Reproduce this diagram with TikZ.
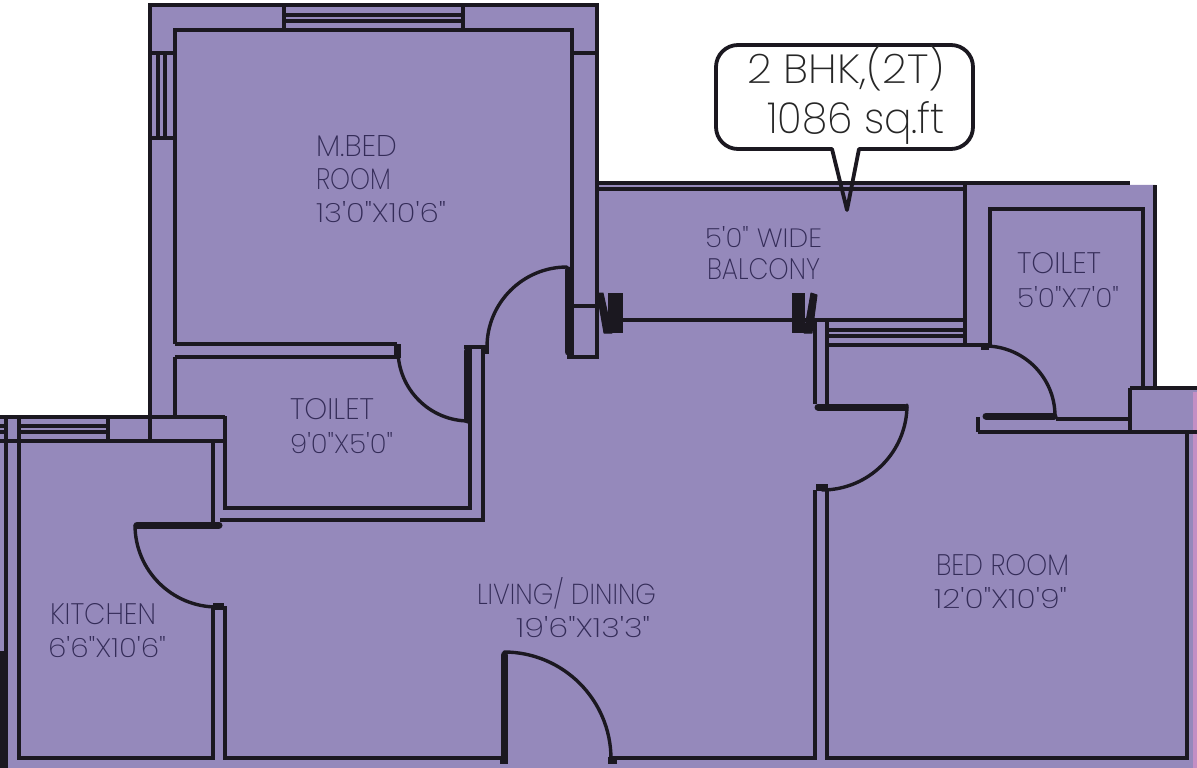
\documentclass[tikz,border=0pt]{standalone}
\usepackage{fontspec}
\usepackage{graphicx}
\newfontfamily\lab{Poppins ExtraLight}
\definecolor{plan}{HTML}{9589BB}
\definecolor{ink}{HTML}{1B1820}
\definecolor{labelink}{HTML}{342C58}
\definecolor{pinkstrip}{HTML}{C48FC4}
\newcommand{\fitto}[3]{\resizebox{#1pt}{#2pt}{\lab #3}}
\tikzset{
  wall/.style={draw=ink,line width=3.6pt,line cap=butt,line join=miter},
  swing/.style={draw=ink,line width=3.4pt,line cap=round},
  leaf/.style={draw=ink,line width=7pt,line cap=round},
  blob/.style={fill=ink,draw=ink,line width=1pt,line join=round},
  roomlabel/.style={anchor=base west,inner sep=0pt,outer sep=0pt,text=labelink},
  badgelabel/.style={anchor=base west,inner sep=0pt,outer sep=0pt,text=black!85},
}
\begin{document}
\begin{tikzpicture}[x=1pt,y=-1pt]
\useasboundingbox (0,0) rectangle (1197,768);
% slab
\fill[plan] (150,4) -- (597,4) -- (597,183) -- (1156,185) -- (1156,388) -- (1197,388) -- (1197,768) -- (0,768) -- (0,416) -- (150,416) -- cycle;
\fill[pinkstrip] (1193,392) rectangle (1197,768);
% master bedroom shell
\draw[wall] (150,417) -- (150,5) -- (597,5) -- (597,357) -- (567,357);
\draw[wall] (175,344) -- (175,30) -- (572,30) -- (572,357);
\draw[wall] (150,53) -- (175,53) (150,138) -- (175,138) (572,53) -- (597,53) (572,306) -- (597,306);
\draw[wall] (284,5) -- (284,30) (463,5) -- (463,30);
\draw[wall] (284,15) -- (463,15) (284,21) -- (463,21);
\draw[wall] (158,53) -- (158,138) (165,53) -- (165,138);
% master bedroom door
\draw[leaf] (568,270) -- (568,352);
\draw[swing] (567,267) arc[start angle=270,end angle=180,radius=80];
\fill[ink] (482,345) rectangle (489,354);
% shared wall and attached toilet
\draw[wall] (175,344) -- (397,344) (175,357) -- (397,357) (175,357) -- (175,417);
\fill[ink] (394,344) rectangle (401,358);
\draw[swing] (398,350) arc[start angle=180,end angle=90,radius=71];
\draw[leaf] (467,351) -- (467,420);
\draw[wall] (464,347) -- (483,347) -- (483,520) -- (220,520);
\draw[wall] (470,347) -- (470,508) -- (225,508) -- (225,416);
% kitchen top and windows
\draw[wall] (0,417) -- (225,417) (0,441) -- (225,441);
\draw[wall] (0,426) -- (108,426) (0,432) -- (108,432);
\draw[wall] (150,417) -- (150,441) (108,417) -- (108,441);
\fill[plan] (8,419) rectangle (17,439);
\draw[wall] (6,417) -- (6,652) (19,417) -- (19,758) -- (213,758) -- (213,608);
\fill[ink] (0,651) rectangle (8,768);
\draw[wall] (213,441) -- (213,524);
% kitchen door
\draw[leaf] (137,525) -- (219,525);
\draw[swing] (135,525) arc[start angle=180,end angle=90,radius=82];
\fill[ink] (213,603) rectangle (224,610);
% living room walls
\draw[wall] (225,606) -- (225,758) -- (501,758);
\draw[wall] (612,758) -- (815,758) -- (815,490);
\draw[leaf] (504,655) -- (504,760);
\draw[swing] (504,652) arc[start angle=270,end angle=360,radius=107];
\fill[ink] (608,757) rectangle (617,764);
\fill[ink] (500,757) rectangle (508,764);
% living room to balcony
\draw[wall] (623,320) -- (792,320);
\draw[wall] (805,320) -- (965,320);
\fill[ink] (608,293) rectangle (623,333);
\filldraw[blob] (597,293) -- (603,293) -- (612,333) -- (604,333) -- cycle;
\fill[ink] (792,293) rectangle (805,333);
\filldraw[blob] (811,293) -- (817,295) -- (812,333) -- (804,333) -- cycle;
% balcony
\draw[wall] (597,183) -- (1130,183);
\draw[wall] (597,189) -- (965,189);
\draw[wall] (965,183) -- (965,345);
% bedroom window and return wall
\draw[wall] (827,320) -- (827,404);
\draw[wall] (815,320) -- (815,404);
\draw[wall] (827,330) -- (965,330) (827,336) -- (965,336) (827,345) -- (990,345);
% bedroom door
\draw[leaf] (818,407) -- (905,407);
\draw[swing] (907,405) arc[start angle=0,end angle=90,radius=85];
\fill[ink] (816,484) rectangle (828,491);
\draw[wall] (827,490) -- (827,758) -- (1187,758) -- (1187,432);
% second toilet
\draw[wall] (990,345) -- (990,209) -- (1143,209) -- (1143,388);
\draw[wall] (1155,185) -- (1155,388);
\draw[wall] (1130,388) -- (1197,388) (1130,388) -- (1130,432) (978,432) -- (1197,432);
\draw[wall] (1056,419) -- (1130,419) (978,417) -- (978,432);
\draw[leaf] (986,416) -- (1054,416);
\draw[swing] (985,346) arc[start angle=270,end angle=360,radius=70];
\fill[ink] (981,344) rectangle (989,350);
% badge
\draw[draw=ink,line width=3.8pt,line join=round]
  (832,149) -- (738,149) arc[start angle=90,end angle=180,radius=22] -- (716,67)
  arc[start angle=180,end angle=270,radius=22] -- (951,45)
  arc[start angle=270,end angle=360,radius=22] -- (973,127)
  arc[start angle=0,end angle=90,radius=22] -- (859,149) -- (847,210) -- cycle;
\node[badgelabel] (badgeA) at (747,84) {\fitto{198}{38}{2 BHK,(2T)}};
\node[badgelabel] (badgeB) at (767,133) {\fitto{178}{32}{1086 sq.ft}};
% labels
\node[roomlabel] (mbedA) at (316,156) {\fitto{81}{21}{M.BED}};
\node[roomlabel] (mbedB) at (316,189) {\fitto{75}{21}{ROOM}};
\node[roomlabel] (mbedC) at (316,222) {\fitto{130}{21}{13'0"X10'6"}};
\node[roomlabel] (balcA) at (705,247) {\fitto{117}{21}{5'0" WIDE}};
\node[roomlabel] (balcB) at (707,279) {\fitto{113}{21}{BALCONY}};
\node[roomlabel] (toilA) at (1017,273) {\fitto{84}{21}{TOILET}};
\node[roomlabel] (toilB) at (1017,307) {\fitto{102}{21}{5'0"X7'0"}};
\node[roomlabel] (toilC) at (290,419) {\fitto{84}{21}{TOILET}};
\node[roomlabel] (toilD) at (290,453) {\fitto{103}{21}{9'0"X5'0"}};
\node[roomlabel] (kitA) at (50,624) {\fitto{106}{21}{KITCHEN}};
\node[roomlabel] (kitB) at (48,657) {\fitto{118}{21}{6'6"X10'6"}};
\node[roomlabel] (livA) at (477,604) {\fitto{179}{27}{LIVING/ DINING}};
\node[roomlabel] (livB) at (516,637) {\fitto{134}{21}{19'6"X13'3"}};
\node[roomlabel] (bedA) at (936,575) {\fitto{133}{21}{BED ROOM}};
\node[roomlabel] (bedB) at (934,608) {\fitto{133}{21}{12'0"X10'9"}};
\end{tikzpicture}
\end{document}
